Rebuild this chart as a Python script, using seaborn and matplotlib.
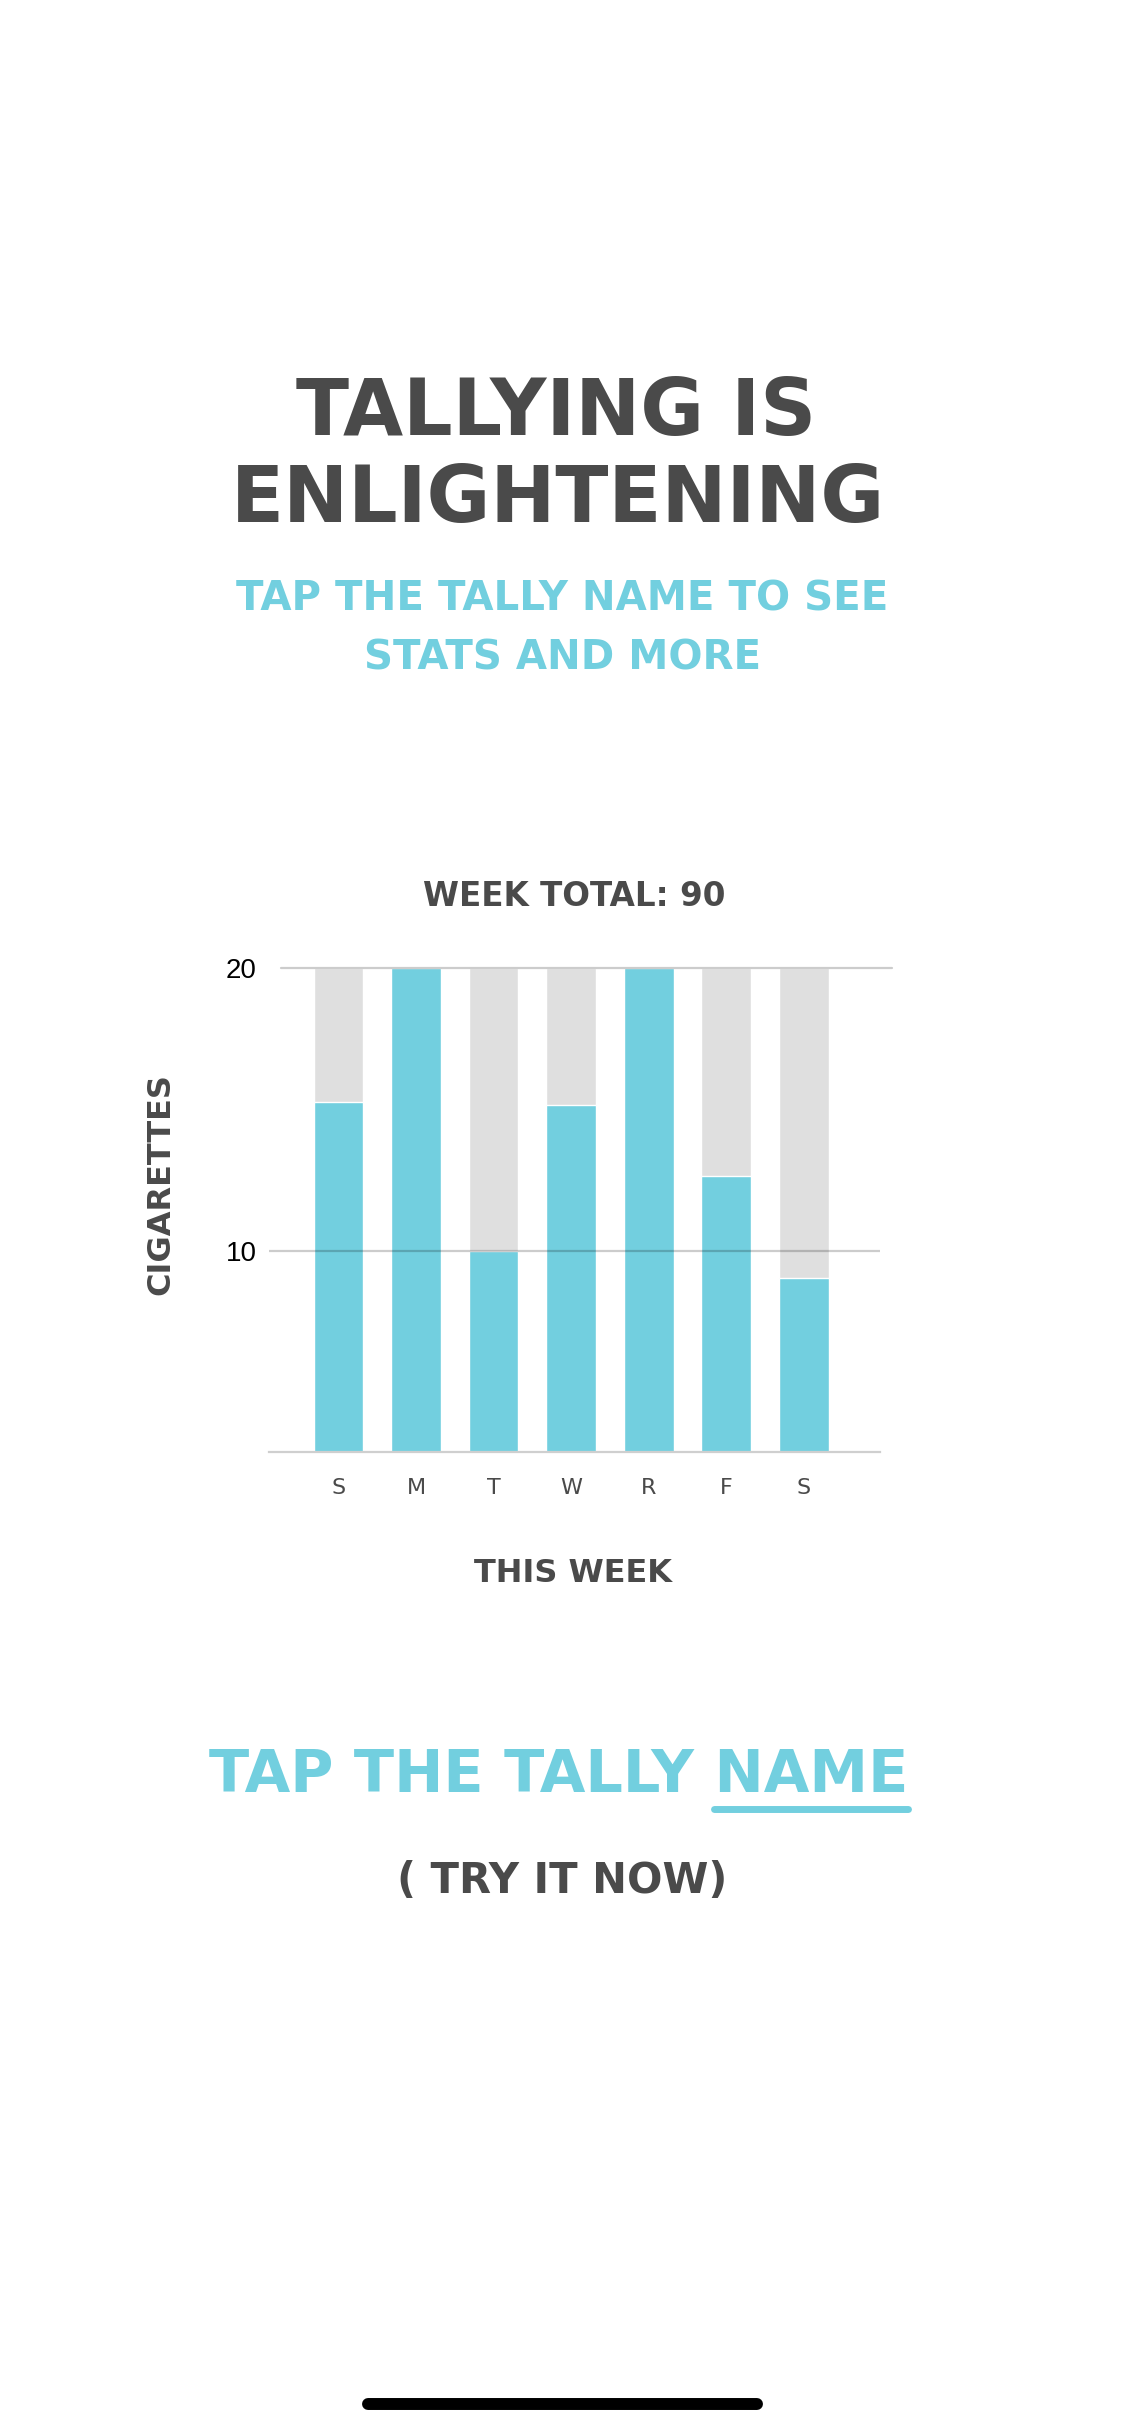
import matplotlib

matplotlib.use("Agg")

import matplotlib.pyplot as plt
import pandas as pd
import seaborn as sns
from matplotlib.lines import Line2D


days = ["Sun", "Mon", "Tue", "Wed", "Thu", "Fri", "Sat"]
day_letters = ["S", "M", "T", "W", "R", "F", "S"]
cigarettes = [15.25, 20, 10, 15.15, 20, 12.65, 9.05]
daily_limit = [20, 20, 20, 20, 20, 20, 20]
y_ticks = [10, 20]
week_total = 90

CYAN = "#72CFDF"
BAR_GRAY = "#DFDFDF"
DARK = "#4A4A4A"


def centered(fig, x, y, text, size, color=DARK, weight="bold", **kw):
    return fig.text(x, y, text, ha="center", va="baseline", fontsize=size,
                    color=color, fontweight=weight, **kw)


sns.set_theme(style="white")
plt.rcParams["font.family"] = ["DejaVu Sans"]

fig = plt.figure(figsize=(11.25, 24.36), dpi=100)
fig.patch.set_facecolor("white")

# header
centered(fig, 0.4945, 0.8214, "TALLYING IS", 56)
centered(fig, 0.496, 0.7857, "ENLIGHTENING", 56)
centered(fig, 0.4993, 0.7492, "TAP THE TALLY NAME TO SEE", 29, color=CYAN)
centered(fig, 0.5, 0.7250, "STATS AND MORE", 29, color=CYAN)
centered(fig, 0.5104, 0.6281, f"WEEK TOTAL: {week_total}", 23.5)

# chart
ax = fig.add_axes([0.239, 0.4041, 0.543, 0.1985])
data = pd.DataFrame({"day": days, "count": cigarettes, "limit": daily_limit})
sns.barplot(data=data, x="day", y="limit", color=BAR_GRAY, saturation=1,
            width=0.64, errorbar=None, ax=ax, zorder=1)
sns.barplot(data=data, x="day", y="count", color=CYAN, saturation=1,
            width=0.64, errorbar=None, ax=ax, zorder=2)

ax.set_xlim(-0.9, 6.98)
ax.set_ylim(2.9, 20)
ax.axhline(y_ticks[0], color="black", alpha=0.2, linewidth=1.6, zorder=3)
# the top rule starts a little further right in the app
ax.axhline(y_ticks[1], xmin=0.02, xmax=1.02, color="black", alpha=0.2,
           linewidth=1.6, zorder=3, clip_on=False)

for side in ["top", "right", "left"]:
    ax.spines[side].set_visible(False)
ax.spines["bottom"].set_color("#CFCFCF")
ax.spines["bottom"].set_linewidth(1.6)

ax.set_yticks(y_ticks)
ax.set_yticklabels([str(v) for v in y_ticks], fontsize=20, color="black",
                   family="Liberation Sans")
ax.set_xticks(range(len(day_letters)))
ax.set_xticklabels(day_letters, fontsize=16, color=DARK)
ax.tick_params(axis="y", length=0, pad=9)
ax.tick_params(axis="x", length=0, pad=19)
ax.set_xlabel("")
ax.set_ylabel("")
ax.set_facecolor("white")

fig.text(0.1431, 0.514, "CIGARETTES", rotation=90, ha="center", va="center",
         fontsize=23, color=DARK, fontweight="bold")
centered(fig, 0.5097, 0.3506, "THIS WEEK", 23)

# call to action
cta = centered(fig, 0.4965, 0.2644, "TAP THE TALLY NAME", 42.5, color=CYAN)
centered(fig, 0.4993, 0.2229, "( TRY IT NOW)", 30)

fig.canvas.draw()
renderer = fig.canvas.get_renderer()
box = cta.get_window_extent(renderer)
probe = fig.text(0, 0, "NAME", fontsize=42.5, fontweight="bold")
name_w = probe.get_window_extent(renderer).width
probe.remove()
x1 = box.x1 / fig.bbox.width
x0 = (box.x1 - name_w) / fig.bbox.width
fig.add_artist(Line2D([x0, x1], [0.2574, 0.2574], transform=fig.transFigure,
                      color=CYAN, linewidth=5))

# home indicator
fig.add_artist(Line2D([0.327, 0.673], [0.01314, 0.01314], transform=fig.transFigure,
                      color="black", linewidth=8.6, solid_capstyle="round"))

fig.savefig("out.png", dpi=100)
plt.close(fig)
